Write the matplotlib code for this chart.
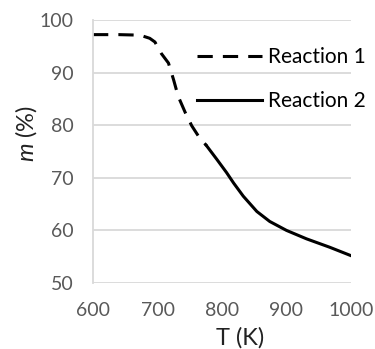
import matplotlib
matplotlib.use("Agg")
from matplotlib import pyplot as plt

# Reaction 1 (dashed) and Reaction 2 (solid)
t_reaction_1 = [600, 640, 673, 688, 696, 706, 717, 725, 732, 743, 753, 763, 776]
m_reaction_1 = [97.2, 97.2, 97.1, 96.5, 95.8, 93.6, 91.8, 88.6, 85.5, 82.4, 79.9, 78.0, 76.1]
t_reaction_2 = [776, 792, 807, 818, 833, 854, 874, 900, 931, 967, 1000]
m_reaction_2 = [76.1, 73.5, 71.0, 69.0, 66.5, 63.6, 61.7, 60.0, 58.4, 56.8, 55.2]

x_ticks = [600, 700, 800, 900, 1000]
y_ticks = [50, 60, 70, 80, 90, 100]

plt.rcParams["font.family"] = ["Lato", "DejaVu Sans"]
plt.rcParams["mathtext.fontset"] = "custom"
plt.rcParams["mathtext.it"] = "Lato:italic"
plt.rcParams["mathtext.rm"] = "Lato"

fig = plt.figure(figsize=(3.75, 3.49), dpi=100)
ax = fig.add_axes([0.248, 0.189, 0.688, 0.754])

ax.plot(t_reaction_1, m_reaction_1, color="black", lw=2.2, linestyle=(0, (5, 3.3)),
        dash_capstyle="butt", label="Reaction 1")
ax.plot(t_reaction_2, m_reaction_2, color="black", lw=2.2, solid_joinstyle="round",
        label="Reaction 2")

ax.set_xlim(600, 1000)
ax.set_ylim(50, 100)
ax.set_xticks(x_ticks)
ax.set_yticks(y_ticks)
ax.grid(axis="y", color="#d9d9d9", lw=1.3)
ax.set_axisbelow(True)
for side in ["top", "right", "bottom"]:
    ax.spines[side].set_visible(False)
ax.spines["left"].set_color("#d9d9d9")
ax.spines["left"].set_linewidth(1.3)
ax.tick_params(length=0, labelsize=14, labelcolor="#595959")
ax.tick_params(axis="y", pad=14)
ax.tick_params(axis="x", pad=14)

ax.set_xlabel("T (K)", fontsize=17, color="#222222", va="center")
ax.xaxis.set_label_coords(0.57, -0.209)
ax.set_ylabel("$m$ (%)", fontsize=17, color="#222222", va="center")
ax.yaxis.set_label_coords(-0.26, 0.57)

ax.legend(loc="upper left", bbox_to_anchor=(0.403, 0.896), frameon=False,
          fontsize=15, handlelength=3.1, handletextpad=0.3, labelspacing=1.14,
          borderaxespad=0, borderpad=0)

fig.savefig("out.png", dpi=100)
